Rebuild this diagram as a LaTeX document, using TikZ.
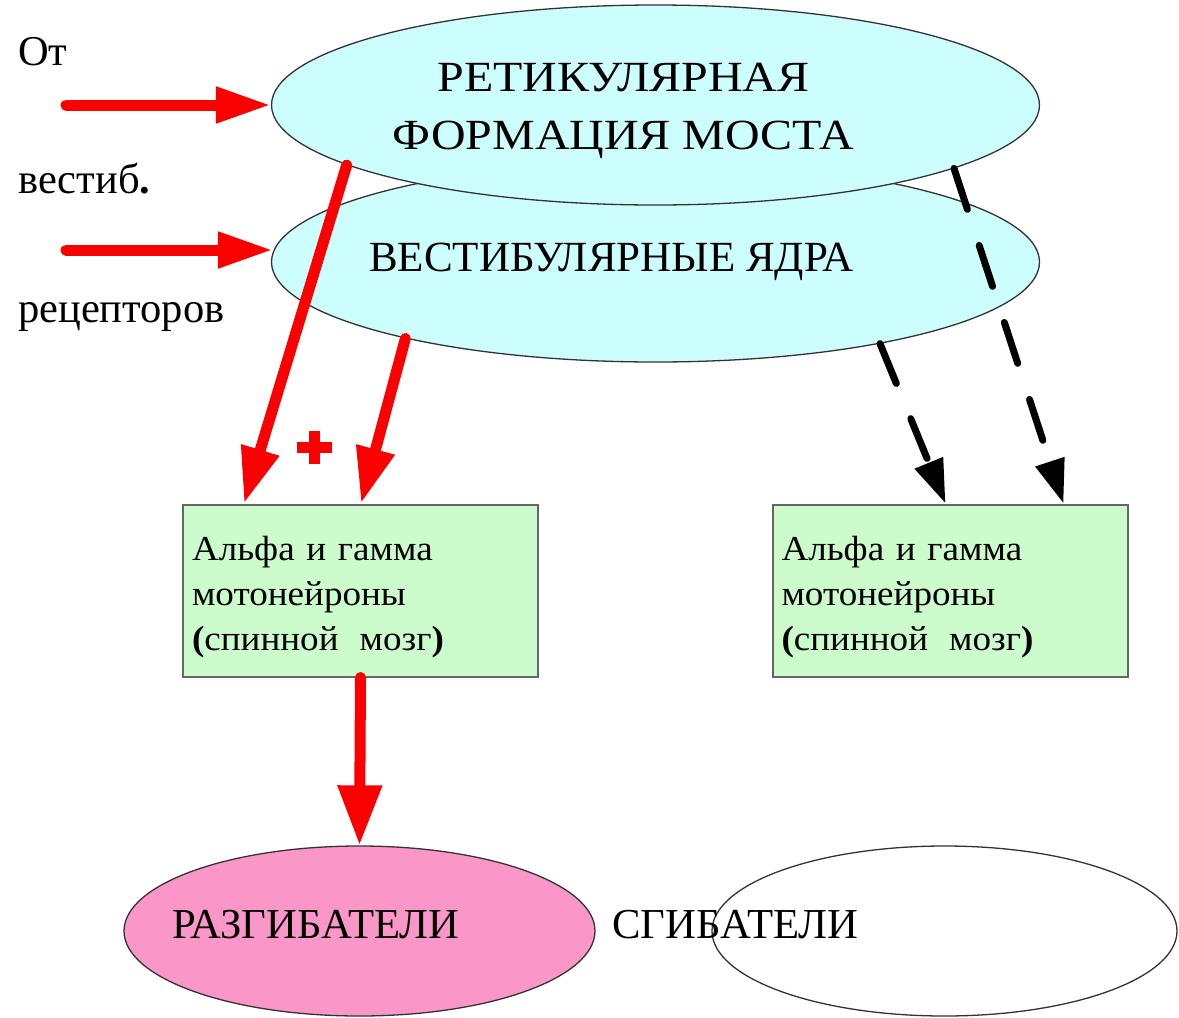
\documentclass[tikz,border=0pt]{standalone}
\usepackage{fontspec}
\setmainfont{Liberation Serif}
\newfontfamily\titlefam[FakeStretch=1.115]{Liberation Serif}
\newfontfamily\boxfam[FakeStretch=1.06]{Liberation Serif}
\usetikzlibrary{shapes.geometric,arrows.meta}
\definecolor{ecyan}{RGB}{204,254,254}
\definecolor{boxgreen}{RGB}{204,252,204}
\definecolor{epink}{RGB}{250,150,200}
\definecolor{arrred}{RGB}{250,0,0}
\newcommand{\myboxfont}{\boxfam\fontsize{35}{45}\selectfont\spaceskip=0.42em plus 0.1em\relax}
\begin{document}
\begin{tikzpicture}[x=1pt,y=-1pt,
  ell/.style={ellipse,draw=black!80,line width=1.3pt,inner sep=0pt},
  box/.style={rectangle,draw=black!60,line width=2pt,fill=boxgreen,minimum width=355pt,minimum height=172pt,text width=337pt,inner xsep=9pt,align=left,font=\myboxfont},
  redarr/.style={draw=arrred,line width=11pt,line cap=round,-{Triangle[length=56pt,width=37pt,fill=arrred]}},
  blkarr/.style={draw=black,line width=7pt,line cap=round,dash pattern=on 43pt off 38pt,-{Triangle[length=44pt,width=29pt]}},
  lbl/.style={font=\fontsize{42.5}{48}\selectfont,anchor=base west,inner sep=0pt},
  big/.style={font=\fontsize{42.7}{48}\selectfont,inner sep=0pt}
]
\useasboundingbox (0,0) rectangle (1179,1018);
% ellipses
\node[ell,fill=ecyan,minimum width=768pt,minimum height=200pt,font=\fontsize{43}{50}\selectfont] (vn) at (655.5,262) {\hspace*{-88pt}ВЕСТИБУЛЯРНЫЕ ЯДРА};
\node[ell,fill=ecyan,minimum width=768pt,minimum height=200pt,align=center,font=\titlefam\fontsize{43}{58}\selectfont] (rf) at (655.5,105) {\hspace*{-64pt}\rule{0pt}{40pt}РЕТИКУЛЯРНАЯ\\\hspace*{-64pt}ФОРМАЦИЯ МОСТА};
% left labels
\node[lbl] (ot) at (18,65) {От};
\node[lbl] (vest) at (18,193) {вестиб\textbf{.}};
\node[lbl] (rec) at (18,322) {рецепторов};
% boxes
\node[box] (b1) at (360.5,590.5) {\rule{0pt}{37pt}Альфа и гамма\\мотонейроны\\\textbf{(}спинной\hspace{0.6em}мозг\textbf{)}};
\node[box] (b2) at (950,590.5) {\rule{0pt}{37pt}Альфа и гамма\\мотонейроны\\\textbf{(}спинной\hspace{0.6em}мозг\textbf{)}};
% bottom ellipses
\node[ell,fill=epink,minimum width=471pt,minimum height=170pt] (ext) at (359.5,931) {};
\node[big,anchor=base west] (extl) at (172,938) {РАЗГИБАТЕЛИ};
\node[ell,fill=white,minimum width=465pt,minimum height=170pt] (flx) at (944.5,931) {};
\node[big,anchor=base west] (flxl) at (612,938) {СГИБАТЕЛИ};
% input arrows
\coordinate (in1) at (66,105);
\coordinate (in2) at (66,250);
\draw[redarr,-{Triangle[length=55pt,width=34pt]}] (in1) -- (rf.west);
\draw[redarr,-{Triangle[length=55pt,width=34pt]}] (in2) -- ([xshift=2pt]in2 -| vn.west);
% red descending arrows
\draw[redarr] (rf.191.4) -- ([xshift=62pt]b1.north west);
\draw[redarr] (vn.197.2) -- ([xshift=179pt]b1.north west);
\draw[redarr,-{Triangle[length=60pt,width=42pt]}] (b1.south) -- (ext.north);
% plus sign
\fill[arrred] (297,442) rectangle (332,453);
\fill[arrred] (309,431) rectangle (320,464);
% dashed arrows
\draw[blkarr] (rf.348.2) -- ([xshift=292pt]b2.north west);
\draw[blkarr] (vn.340.8) -- ([xshift=174pt]b2.north west);
\end{tikzpicture}
\end{document}
